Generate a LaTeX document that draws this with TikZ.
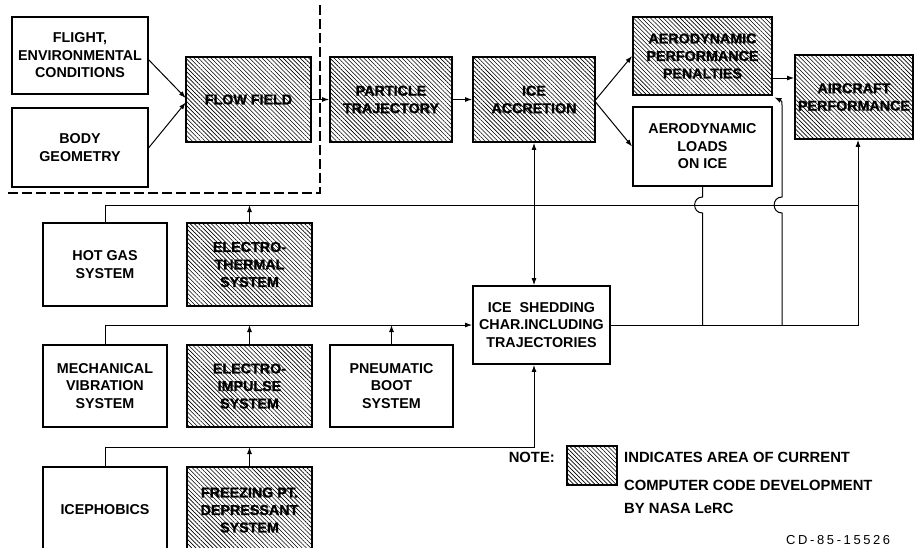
\documentclass[tikz,border=0pt]{standalone}
\usepackage{fontspec}
\setmainfont{Liberation Sans}
\usetikzlibrary{arrows.meta,patterns.meta,calc}
\newcommand{\boxfont}{\fontsize{14.3}{17.5}\selectfont\bfseries}
\newcommand{\hboxfont}{\fontsize{14.3}{17.5}\selectfont\bfseries\addfontfeature{FakeBold=1.2}}
\newcommand{\notefont}{\fontsize{14.8}{17.5}\selectfont\bfseries}
\begin{document}
\begin{tikzpicture}[x=1pt,y=-1pt,
  box/.style={draw, line width=1.8pt, align=center, inner sep=1pt, font=\boxfont},
  hbox/.style={box, font=\hboxfont, pattern={Lines[angle=-45,distance=3pt,line width=0.6pt]}},
  conn/.style={line width=1pt},
  arr/.style={conn, -{Latex[length=7pt,width=5pt]}},
  dbl/.style={conn, {Latex[length=7pt,width=5pt]}-{Latex[length=7pt,width=5pt]}},
  bdash/.style={line width=1.4pt, dash pattern=on 10pt off 4pt}
]
\useasboundingbox (0,0) rectangle (915,547);
\clip (0,0) rectangle (915,547);

% top row
\node[box, minimum width=136pt, minimum height=77pt] (flight) at (80,55.5) {FLIGHT,\\ENVIRONMENTAL\\CONDITIONS};
\node[box, minimum width=136pt, minimum height=79pt] (body) at (80,147.5) {BODY\\GEOMETRY};
\node[hbox, minimum width=125pt, minimum height=85pt] (flow) at (248.5,99.5) {FLOW FIELD};
\node[hbox, minimum width=122pt, minimum height=85pt] (particle) at (391,99.5) {PARTICLE\\TRAJECTORY};
\node[hbox, minimum width=122pt, minimum height=85pt] (iceacc) at (534,99.5) {ICE\\ACCRETION};
\node[hbox, minimum width=139pt, minimum height=78pt] (aeroperf) at (702.5,56) {AERODYNAMIC\\PERFORMANCE\\PENALTIES};
\node[box, minimum width=139pt, minimum height=79pt] (aeroloads) at (702.5,146.5) {AERODYNAMIC\\LOADS\\ON ICE};
\node[hbox, minimum width=118pt, minimum height=84pt] (aircraft) at (854,97) {AIRCRAFT\\PERFORMANCE};

% lower rows
\node[box, minimum width=124pt, minimum height=83pt] (hotgas) at (105,264.5) {HOT GAS\\SYSTEM};
\node[hbox, minimum width=125pt, minimum height=83pt] (ethermal) at (249.5,264.5) {ELECTRO-\\THERMAL\\SYSTEM};
\node[box, minimum width=137pt, minimum height=78pt] (shedding) at (541.5,325) {ICE\ \ SHEDDING\\CHAR.INCLUDING\\TRAJECTORIES};
\node[box, minimum width=124pt, minimum height=82pt] (mech) at (105,386) {MECHANICAL\\VIBRATION\\SYSTEM};
\node[hbox, minimum width=125pt, minimum height=82pt] (eimpulse) at (249.5,386) {ELECTRO-\\IMPULSE\\SYSTEM};
\node[box, minimum width=123pt, minimum height=82pt] (pneum) at (391.5,386) {PNEUMATIC\\BOOT\\SYSTEM};
\node[box, minimum width=124pt, minimum height=86pt] (icephob) at (105,510) {ICEPHOBICS};
\node[hbox, minimum width=125pt, minimum height=86pt] (freezing) at (249.5,510) {FREEZING PT.\\DEPRESSANT\\SYSTEM};

% dashed boundary
\draw[bdash] (320,5) -- (320,193) -- (7,193);

% top flow
\draw[arr] ([yshift=-4.5pt]flight.east) -- ([yshift=1.5pt]flow.west);
\draw[arr] (body.east) -- ([yshift=-3pt]flow.west);
\draw[arr] (flow) -- (particle);
\draw[arr] (particle) -- (iceacc);
\draw[arr] (iceacc.east) -- (aeroperf.west);
\draw[arr] ([yshift=-3pt]iceacc.east) -- (aeroloads.west);
\coordinate (pa) at ([yshift=-22pt]aeroperf.east);
\draw[arr] (pa) -- (pa -| aircraft.west);
\draw[dbl] (iceacc.south) -- (iceacc.south |- shedding.north);

% buses
\coordinate (bus1) at (0,205);
\coordinate (bus2) at (0,325);
\coordinate (bus3) at (0,447);
\coordinate (rx) at (858,0);
\draw[conn] (hotgas.north) |- (rx |- bus1);
\draw[arr] (ethermal.north) -- (ethermal.north |- bus1);
\draw[arr] (mech.north) |- (shedding.west);
\draw[arr] (eimpulse.north) -- (eimpulse.north |- bus2);
\draw[arr] (pneum.north) -- (pneum.north |- bus2);
\coordinate (b3) at (iceacc.south |- bus3);
\draw[arr] (icephob.north) |- (b3) -- (b3 |- shedding.south);
\draw[arr] (freezing.north) -- (freezing.north |- bus3);

% shedding outputs
\draw[arr] (shedding.east) -| (rx |- aircraft.south);
\draw[conn] (aeroloads.south) -- (702.5,197) .. controls (692,197) and (692,213) .. (702.5,213) -- (702.5,325);
\draw[arr] (782,325) -- (782,213) .. controls (771.5,213) and (771.5,197) .. (782,197) -- (782,106) .. controls (782,101) .. ([xshift=1.5pt,yshift=-1.5pt]aeroperf.south east);

% legend
\node[anchor=east, font=\notefont, inner sep=0pt] (note) at (555,457) {NOTE:};
\node[hbox, line width=1.5pt, minimum width=50pt, minimum height=39pt] (legend) at (592,465.5) {};
\node[anchor=west, font=\notefont, inner sep=0pt] (t1) at (624,457) {INDICATES AREA OF CURRENT};
\node[anchor=west, font=\notefont, inner sep=0pt] (t2) at (624,485) {COMPUTER CODE DEVELOPMENT};
\node[anchor=west, font=\notefont, inner sep=0pt] (t3) at (624,508) {BY NASA LeRC};
\node[anchor=base west, inner sep=0pt, font=\fontsize{13}{15}\selectfont\addfontfeature{LetterSpace=20}] (cd) at (786,544) {CD-85-15526};
\end{tikzpicture}
\end{document}
